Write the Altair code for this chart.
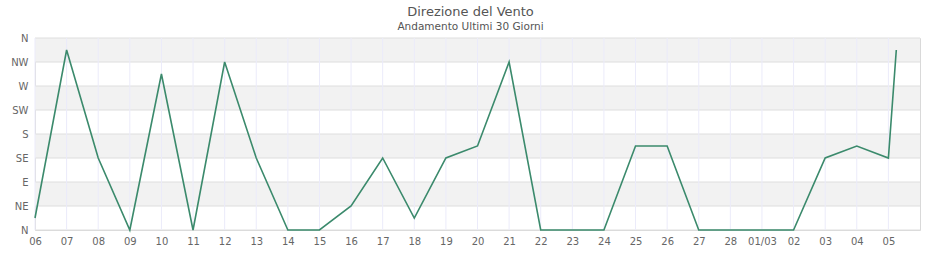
import altair as alt
import pandas as pd

# ---- data ----
times = [
    "2025-02-06T00:00", "2025-02-07T00:00", "2025-02-08T00:00", "2025-02-09T00:00",
    "2025-02-10T00:00", "2025-02-11T00:00", "2025-02-12T00:00", "2025-02-13T00:00",
    "2025-02-14T00:00", "2025-02-15T00:00", "2025-02-16T00:00", "2025-02-17T00:00",
    "2025-02-18T00:00", "2025-02-19T00:00", "2025-02-20T00:00", "2025-02-21T00:00",
    "2025-02-22T00:00", "2025-02-23T00:00", "2025-02-24T00:00", "2025-02-25T00:00",
    "2025-02-26T00:00", "2025-02-27T00:00", "2025-02-28T00:00", "2025-03-01T00:00",
    "2025-03-02T00:00", "2025-03-03T00:00", "2025-03-04T00:00", "2025-03-05T00:00",
    "2025-03-05T06:00",
]
directions = [
    22.5, 337.5, 135, 0, 292.5, 0, 315, 135, 0, 0, 45, 135, 22.5, 135, 157.5,
    315, 0, 0, 0, 157.5, 157.5, 0, 0, 0, 0, 135, 157.5, 135, 337.5,
]
tick_days = [
    "2025-02-06", "2025-02-07", "2025-02-08", "2025-02-09", "2025-02-10",
    "2025-02-11", "2025-02-12", "2025-02-13", "2025-02-14", "2025-02-15",
    "2025-02-16", "2025-02-17", "2025-02-18", "2025-02-19", "2025-02-20",
    "2025-02-21", "2025-02-22", "2025-02-23", "2025-02-24", "2025-02-25",
    "2025-02-26", "2025-02-27", "2025-02-28", "2025-03-01", "2025-03-02",
    "2025-03-03", "2025-03-04", "2025-03-05",
]
y_ticks = [0, 45, 90, 135, 180, 225, 270, 315, 360]
y_labels = ["N", "NE", "E", "SE", "S", "SW", "W", "NW", "N"]
band_lo = [45, 135, 225, 315]
band_hi = [90, 180, 270, 360]

x_domain = [alt.DateTime(year=2025, month=2, date=6), alt.DateTime(year=2025, month=3, date=6)]
tick_vals = [alt.DateTime(year=int(d[:4]), month=int(d[5:7]), date=int(d[8:10])) for d in tick_days]

line_df = pd.DataFrame({"t": [t + ":00" for t in times], "dir": directions})
band_df = pd.DataFrame({"lo": band_lo, "hi": band_hi})
hgrid_df = pd.DataFrame({"dir": y_ticks})
vgrid_df = pd.DataFrame({"t": [d + "T00:00:00" for d in tick_days]})

label_map = "{" + ",".join(f"'{v}':'{l}'" for v, l in zip(y_ticks, y_labels)) + "}"

x_scale = alt.Scale(domain=x_domain)
y_scale = alt.Scale(domain=[0, 360], nice=False, zero=False)

font = "DejaVu Sans"

x_axis = alt.Axis(
    values=tick_vals, grid=False, ticks=False, domain=False,
    labelExpr="date(datum.value) == 1 ? timeFormat(datum.value, '%d/%m') : timeFormat(datum.value, '%d')",
    labelFont=font, labelFontSize=10, labelColor="#666666", labelPadding=6,
    labelOverlap=False, labelAngle=0, labelFlush=False, labelBound=False,
)
y_axis = alt.Axis(
    values=y_ticks, grid=False, ticks=False, domain=False,
    labelExpr=label_map + "[datum.value]",
    labelFont=font, labelFontSize=10, labelColor="#666666", labelPadding=7,
    labelOverlap=False, labelFlush=False, labelBound=False,
)

bands = alt.Chart(band_df).mark_rect(color="#f2f2f2").encode(
    x=alt.value(0), x2=alt.value("width"),
    y=alt.Y("lo:Q", scale=y_scale, axis=y_axis, title=None), y2="hi:Q",
)

hgrid = alt.Chart(hgrid_df).mark_rule(color="#dedede", strokeWidth=1).encode(
    y=alt.Y("dir:Q", scale=y_scale, axis=y_axis, title=None),
)

vgrid = alt.Chart(vgrid_df).mark_rule(color="#ebebfa", strokeWidth=1).encode(
    x=alt.X("t:T", scale=x_scale, axis=x_axis, title=None),
)

line = alt.Chart(line_df).mark_line(color="#3b8a6c", strokeWidth=1.6).encode(
    x=alt.X("t:T", scale=x_scale, axis=x_axis, title=None),
    y=alt.Y("dir:Q", scale=y_scale, axis=y_axis, title=None),
)

chart = alt.layer(bands, hgrid, vgrid, line).properties(
    width=885, height=192,
    autosize=alt.AutoSizeParams(type="none"),
    padding={"left": 35, "top": 38, "right": 20, "bottom": 30},
    background="white",
    title=alt.TitleParams(
        text="Direzione del Vento",
        subtitle="Andamento Ultimi 30 Giorni",
        anchor="middle", frame="group", dx=-7, offset=1,
        font=font, fontSize=13, fontWeight="normal", color="#555555",
        subtitleFont=font, subtitleFontSize=10.5, subtitleColor="#555555",
        subtitlePadding=3,
    ),
).configure_view(stroke="#d9d9d9", strokeWidth=1)

chart.save("out.html", embed_options={"renderer": "svg", "actions": False})
